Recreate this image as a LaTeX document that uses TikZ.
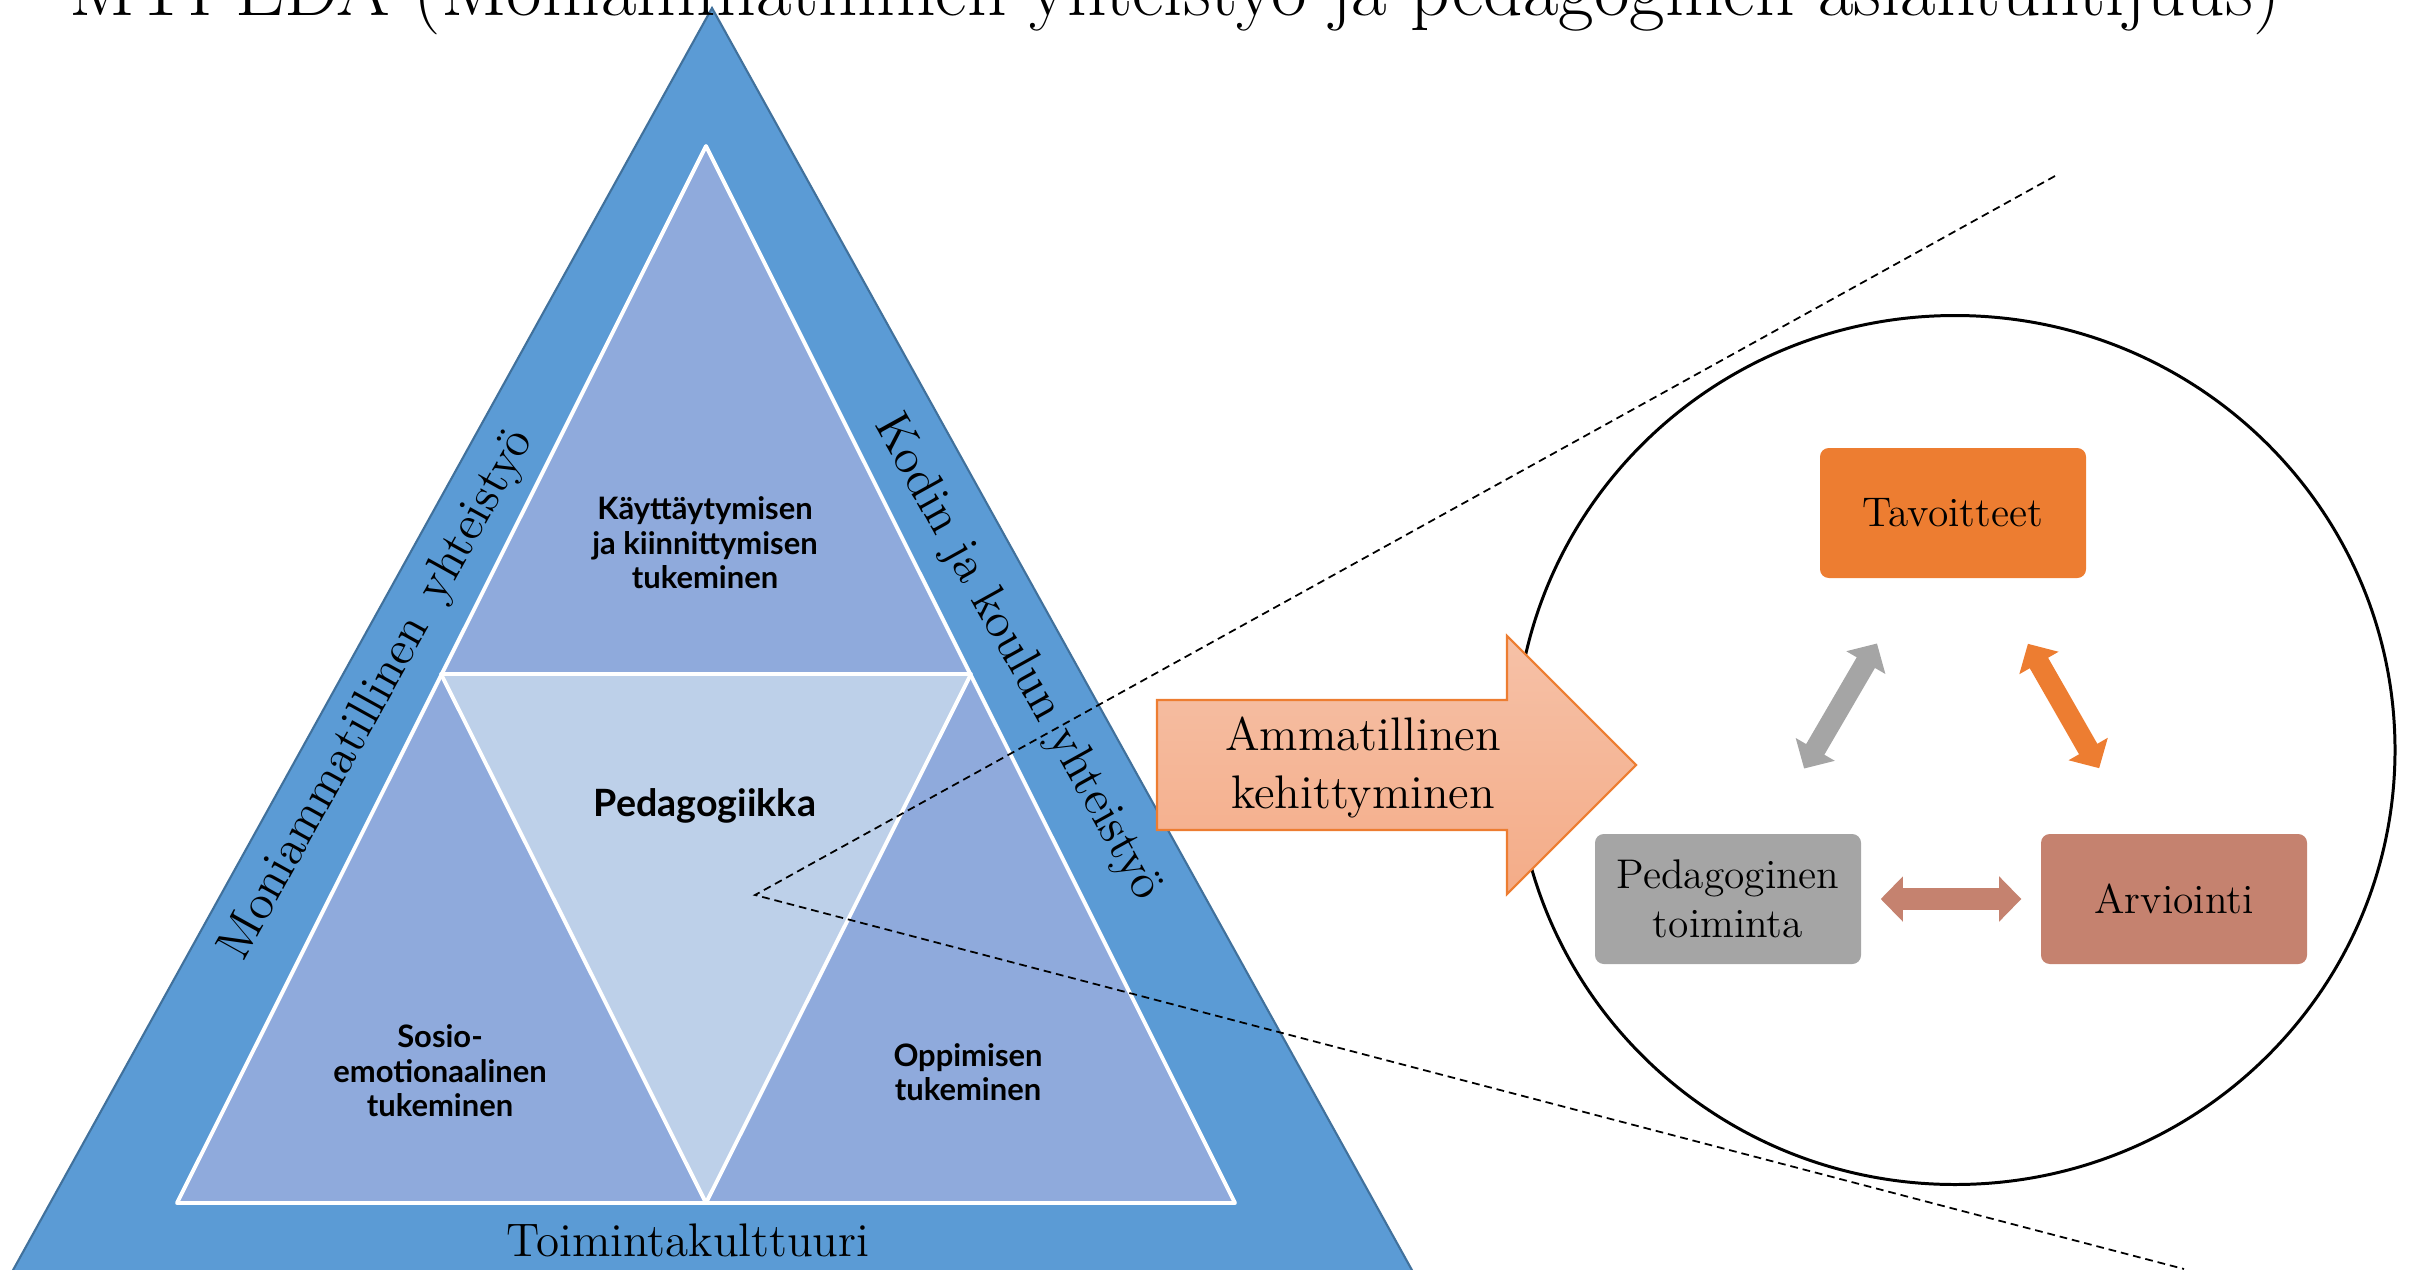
\documentclass[tikz,border=0pt]{standalone}
\usepackage{fontspec}
\newfontfamily\lato{Lato}
\usetikzlibrary{arrows.meta,shapes.geometric}
\definecolor{outerblue}{HTML}{5B9BD5}
\definecolor{edgeblue}{HTML}{41719C}
\definecolor{innerblue}{HTML}{8FAADC}
\definecolor{paleblue}{HTML}{BDD0E9}
\definecolor{goalorange}{HTML}{ED7D31}
\definecolor{actgray}{HTML}{A5A5A5}
\definecolor{evalbrown}{HTML}{C5826F}
\definecolor{salmontop}{HTML}{F6C1A7}
\definecolor{salmonbot}{HTML}{F4AC88}

\begin{document}
\begin{tikzpicture}[x=0.1mm,y=-0.1mm]
        \tikzstyle{part}=[white,line width=1.1pt,line join=round]
        \tikzstyle{area}=[font=\lato\bfseries\fontsize{8.8}{9.8}\selectfont,align=center]
        \tikzstyle{band}=[font=\fontsize{13.4}{16.5}\selectfont,align=center]
        \tikzstyle{side}=[font=\fontsize{14}{16.5}\selectfont]
        \tikzstyle{task}=[rounded corners=2.5pt,minimum width=2.66cm,minimum height=1.3cm,align=center,font=\fontsize{11.8}{14}\selectfont]
        \tikzstyle{link}=[line width=6pt,{Triangle[width=12.5pt,length=6.3pt]}-{Triangle[width=12.5pt,length=6.3pt]}]
        \tikzstyle{zoomline}=[dash pattern=on 2.2pt off 1.4pt,line width=0.5pt]
        \useasboundingbox (0,0) rectangle (2412,1269);
       \begin{scope}
         \filldraw[fill=outerblue,draw=edgeblue,line width=0.6pt] (712,8) -- (1423,1290) -- (2,1290) -- cycle;
         \fill[innerblue] (706,146) -- (1235,1203) -- (177,1203) -- cycle;
         \fill[paleblue] (441,674) -- (971,674) -- (706,1203) -- cycle;
         \draw[part] (706,146) -- (1235,1203) -- (177,1203) -- cycle;
         \draw[part] (441,674) -- (971,674) -- (706,1203) -- cycle;
         \node [area] (a1) at (705,543) {Käyttäytymisen\\ja kiinnittymisen\\tukeminen};
         \node [area,font=\lato\bfseries\fontsize{10.7}{12}\selectfont] (a2) at (705,806) {Pedagogiikka};
         \node [area] (a3) at (440,1071) {Sosio-\\emotionaalinen\\tukeminen};
         \node [area] (a4) at (968,1072) {Oppimisen\\tukeminen};
         \node [side,rotate=61] (b1) at (378,695) {Moniammatillinen\hspace{0.5em}yhteistyö};
         \node [side,rotate=-61] (b2) at (1017,658) {Kodin ja koulun yhteistyö};
         \node [band,anchor=base] (b3) at (688,1256) {Toimintakulttuuri};
        \end{scope}
         \node [anchor=base,font=\fontsize{22}{26}\selectfont] (title) at (1175,15) {MTPEDA (Moniammatillinen yhteistyö ja pedagoginen asiantuntijuus)};
       \begin{scope}
         \node [draw,ellipse,line width=0.85pt,minimum width=8.8cm,minimum height=8.69cm] (cyc) at (1955,750) {};
         \node [task,fill=goalorange] (s1) at (1953,513) {Tavoitteet};
         \node [task,fill=actgray] (s2) at (1728,899) {Pedagoginen\\toiminta};
         \node [task,fill=evalbrown] (s3) at (2174,899) {Arviointi};
         \draw[link,actgray,shorten <=0.75cm,shorten >=0.75cm] (s2) -- (s1);
         \draw[link,goalorange,shorten <=0.75cm,shorten >=0.75cm] (s1) -- (s3);
         \draw[link,evalbrown,shorten <=0.19cm,shorten >=0.19cm] (s2) -- (s3);
        \end{scope}
         \path[draw=goalorange,line width=0.6pt,top color=salmontop,bottom color=salmonbot] (1157,700) -- (1507,700) -- (1507,636) -- (1636,765) -- (1507,894) -- (1507,830) -- (1157,830) -- cycle;
         \node [band] (kehi) at (1363,767) {Ammatillinen\\kehittyminen};
         \coordinate (z0) at (755,895);
         \coordinate (z1) at (2055,176);
         \coordinate (z2) at (2184,1269);
         \draw[zoomline] (z1) -- (z0) -- (z2);
      \end{tikzpicture}
\end{document}
